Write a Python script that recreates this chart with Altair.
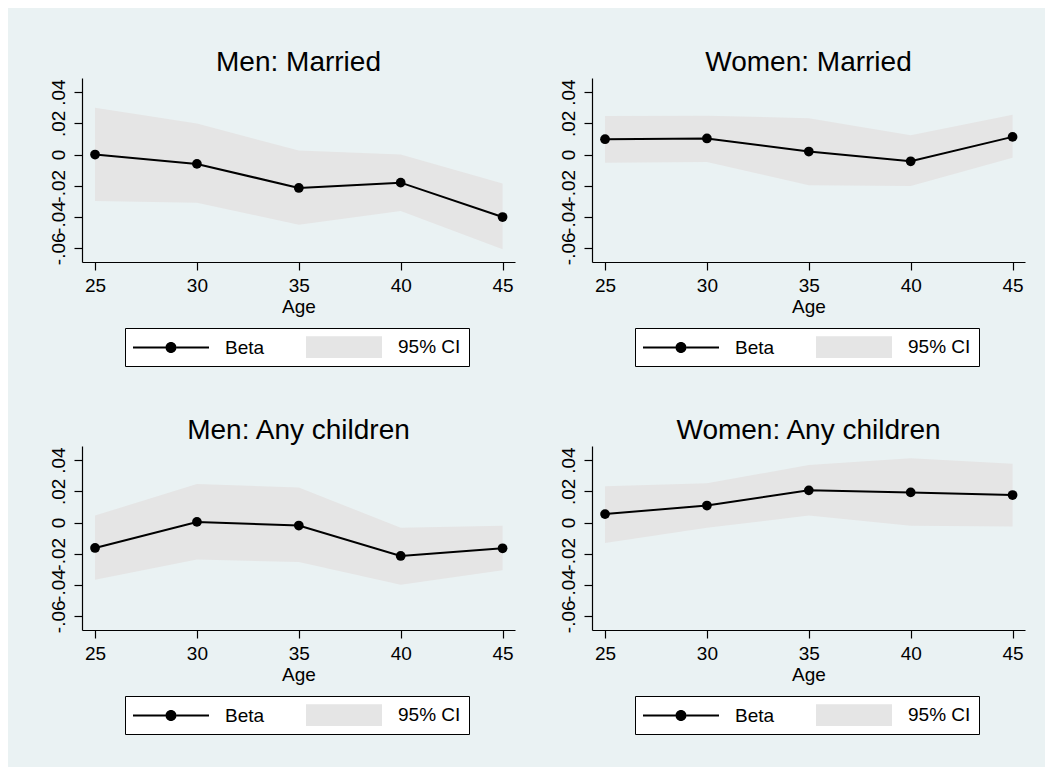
import altair as alt
import pandas as pd

ages = [25, 30, 35, 40, 45]

titles = ["Men: Married", "Women: Married", "Men: Any children", "Women: Any children"]

men_married_beta = [0.0, -0.006, -0.0214, -0.018, -0.040]
men_married_hi = [0.0299, 0.0198, 0.0026, 0.0, -0.0186]
men_married_lo = [-0.0297, -0.0308, -0.045, -0.0361, -0.0607]

women_married_beta = [0.0098, 0.0103, 0.0019, -0.0043, 0.0113]
women_married_hi = [0.0246, 0.0248, 0.0233, 0.0124, 0.0254]
women_married_lo = [-0.0053, -0.0047, -0.0197, -0.0201, -0.0021]

men_children_beta = [-0.0163, 0.0004, -0.0019, -0.0214, -0.0165]
men_children_hi = [0.0045, 0.0246, 0.0225, -0.0034, -0.0021]
men_children_lo = [-0.0366, -0.0236, -0.0253, -0.0398, -0.0306]

women_children_beta = [0.0054, 0.0109, 0.0206, 0.0193, 0.0176]
women_children_hi = [0.0233, 0.0251, 0.0368, 0.0411, 0.0377]
women_children_lo = [-0.0131, -0.0034, 0.0045, -0.0021, -0.0026]

y_ticks = [-0.06, -0.04, -0.02, 0, 0.02, 0.04]
y_tick_labels = ["-.06", "-.04", "-.02", "0", ".02", ".04"]

legend_names = ["Beta", "95% CI"]

FONT = "Liberation Sans"
BG = "#eaf2f3"
CI_COLOR = "#e5e5e5"

label_expr = "".join(
    f"datum.value == {v} ? '{l}' : " for v, l in zip(y_ticks, y_tick_labels)
) + "''"

# legend symbol shapes (unit = 11 px at symbol size 484); symbol spans 76 px from its left edge
beta_path = ("M-1,-0.091H1.9545V0.091H-1Z"
             "M2.9545,-0.091H5.909V0.091H2.9545Z"
             "M1.9545,0A0.5,0.5,0,1,1,2.9545,0A0.5,0.5,0,1,1,1.9545,0Z")
ci_path = "M-1,-0.982H5.909V0.982H-1Z"

# trailing no-break space widens the legend box on its right, as in the reference
legend_label_expr = f"datum.label == '{legend_names[1]}' ? datum.label + '\u00a0' : datum.label"

xscale = alt.Scale(domain=[24.36, 45.61], nice=False, zero=False)
yscale = alt.Scale(domain=[-0.0688, 0.049], nice=False, zero=False)

xaxis = alt.Axis(values=ages, title="Age", grid=False, labelFlush=False,
                 labelOverlap=False, tickSize=8, labelPadding=6, titlePadding=2)
yaxis = alt.Axis(values=y_ticks, labelExpr=label_expr, title=None, grid=True,
                 labelAngle=270, labelAlign="center", labelBaseline="alphabetic",
                 labelPadding=10, tickSize=8, labelOverlap=False, labelFlush=False)


def make_legend():
    return alt.Legend(title=None, orient="none", legendX=43, legendY=250,
                      direction="horizontal", columns=2,
                      symbolSize=484, symbolOpacity=1, symbolStrokeWidth=0,
                      labelFontSize=19, labelFont=FONT, labelColor="black",
                      labelOffset=70, columnPadding=41, padding=8,
                      labelExpr=legend_label_expr,
                      strokeColor="black", fillColor="white", labelLimit=0)


def panel(title, beta, lo, hi):
    df = pd.DataFrame({"age": ages, "beta": beta, "lo": lo, "hi": hi})
    base = alt.Chart(df)
    x = alt.X("age:Q", scale=xscale, axis=xaxis)
    band = base.mark_area(color=CI_COLOR, opacity=1).encode(
        x=x, y=alt.Y("lo:Q", scale=yscale, axis=yaxis), y2="hi:Q")
    line = base.mark_line(color="black", strokeWidth=2).encode(
        x=x, y=alt.Y("beta:Q", scale=yscale, axis=yaxis))
    pts = base.mark_circle(color="black", size=95, opacity=1).encode(
        x=x, y=alt.Y("beta:Q", scale=yscale, axis=yaxis))
    leg = base.transform_calculate(s="'Beta'").transform_filter("false").mark_point(
        filled=True, opacity=1, size=484).encode(
        color=alt.Color("s:N", scale=alt.Scale(domain=legend_names, range=["black", CI_COLOR]),
                        legend=make_legend()),
        shape=alt.Shape("s:N", scale=alt.Scale(domain=legend_names, range=[beta_path, ci_path]),
                        legend=make_legend()),
    )
    return alt.layer(band, line, pts, leg).properties(
        width=433, height=184,
        title=alt.TitleParams(title, anchor="middle", frame="group", fontSize=28,
                              fontWeight="normal", font=FONT, color="black",
                              baseline="alphabetic", offset=8, dy=29),
    )


p1 = panel(titles[0], men_married_beta, men_married_lo, men_married_hi)
p2 = panel(titles[1], women_married_beta, women_married_lo, women_married_hi)
p3 = panel(titles[2], men_children_beta, men_children_lo, men_children_hi)
p4 = panel(titles[3], women_children_beta, women_children_lo, women_children_hi)

chart = alt.concat(p1, p2, p3, p4, columns=2, spacing={"row": 49, "column": 42}).resolve_scale(
    color="independent", shape="independent"
).resolve_legend(color="independent", shape="independent").properties(
    padding={"left": 40, "top": 40, "right": 19, "bottom": 32},
    background=BG,
).configure_view(fill="white", stroke="transparent").configure_axis(
    labelFont=FONT, titleFont=FONT, labelFontSize=19, titleFontSize=19,
    labelColor="black", titleColor="black", titleFontWeight="normal",
    domainColor="black", domainWidth=1.2, tickColor="black", tickWidth=1.2,
    gridColor=BG, gridWidth=1.5,
)

chart.save("out.html", embed_options={"renderer": "svg", "actions": False})
